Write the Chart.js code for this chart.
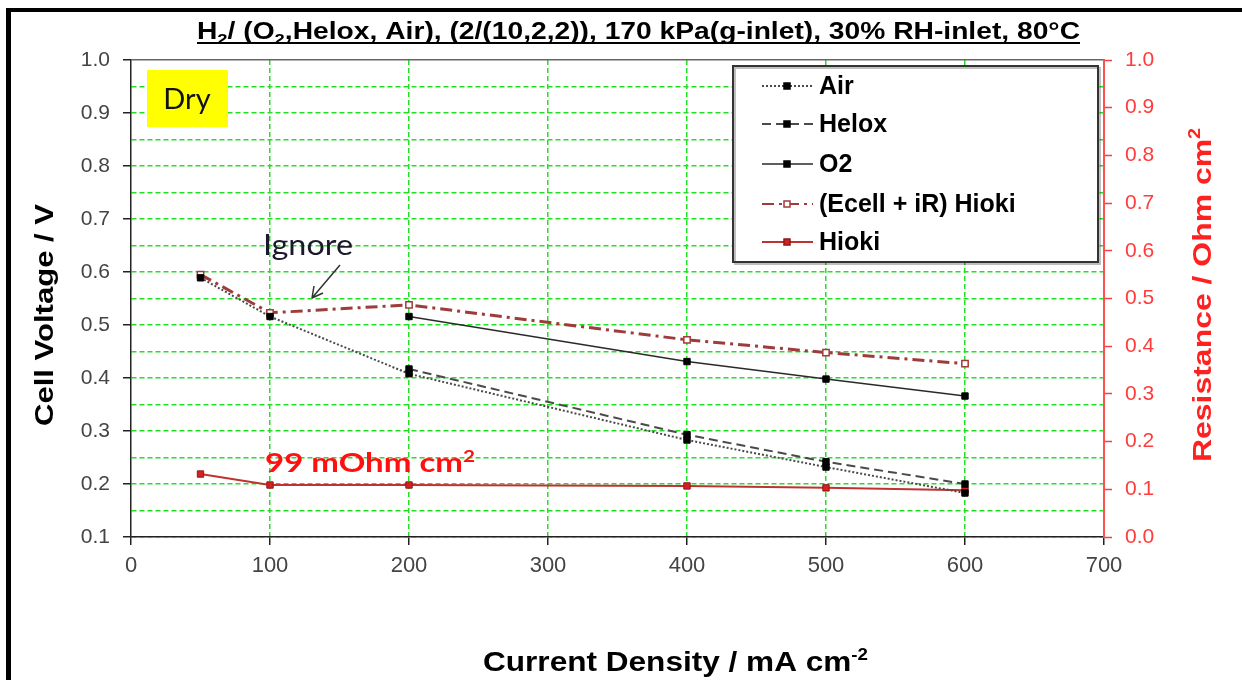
<!DOCTYPE html>
<html>
<head>
<meta charset="utf-8">
<script src="https://cdn.jsdelivr.net/npm/chart.js@4.4.1/dist/chart.umd.min.js"></script>
<style>
  html, body { margin: 0; padding: 0; background: #fff; }
  canvas { display: block; }
</style>
</head>
<body>
<canvas id="polCurve" width="1242" height="680"></canvas>
<script>
// data
const current = [50, 100, 200, 400, 500, 600];          // mA cm-2
const currentO2 = [200, 400, 500, 600];
const airVoltage = [0.589, 0.516, 0.408, 0.283, 0.232, 0.183];
const heloxVoltage = [0.417, 0.293, 0.242, 0.200];
const o2Voltage = [0.516, 0.431, 0.398, 0.366];
const irFreeVoltage = [0.595, 0.523, 0.538, 0.472, 0.448, 0.427];
const hiokiResistance = [0.132, 0.109, 0.109, 0.107, 0.103, 0.098];
const seriesLabels = ['Air', 'Helox', 'O2', '(Ecell + iR) Hioki', 'Hioki'];

const GREEN = '#22e022';
const ARIAL = "'Liberation Sans', Arial, sans-serif";
const NARROW = "'Liberation Sans Narrow', 'Liberation Sans', Arial, sans-serif";
const CALIBRI = "Lato, 'Open Sans', sans-serif";

function pts(xs, ys) {
    return xs.map((x, i) => ({x: x, y: ys[i]}));
}
function isMajor(v) {
    return Math.abs(v * 10 - Math.round(v * 10)) < 1e-6;
}

// draws a row of text pieces (sub/superscripts) squeezed to a given width
function drawPieces(ctx, pieces, x, y, width) {
    let total = 0;
    pieces.forEach(p => { ctx.font = p.font; total += ctx.measureText(p.t).width; });
    const sx = width / total;
    ctx.save();
    ctx.translate(x, y);
    ctx.scale(sx, 1);
    ctx.textBaseline = 'alphabetic';
    ctx.textAlign = 'left';
    let cx = 0;
    pieces.forEach(p => {
        ctx.font = p.font;
        ctx.fillText(p.t, cx, p.dy || 0);
        cx += ctx.measureText(p.t).width;
    });
    ctx.restore();
}

const decorations = {
    id: 'decorations',
    beforeDraw(chart) {
        const ctx = chart.ctx;
        ctx.save();
        ctx.fillStyle = '#fff';
        ctx.fillRect(0, 0, chart.width, chart.height);
        ctx.fillStyle = '#000';
        ctx.fillRect(6, 8, 5, chart.height - 8);
        ctx.fillRect(6, 8, chart.width - 6, 4);
        ctx.restore();
    },
    afterDraw(chart) {
        const ctx = chart.ctx;
        ctx.save();

        // title
        ctx.fillStyle = '#000';
        const tf = 'bold 23px ' + NARROW, sf = 'bold 15px ' + NARROW;
        drawPieces(ctx, [
            {t: 'H', font: tf}, {t: '2', font: sf, dy: 5},
            {t: '/ (O', font: tf}, {t: '2', font: sf, dy: 5},
            {t: ',Helox, Air), (2/(10,2,2)), 170 kPa(g-inlet), 30% RH-inlet, 80°C', font: tf}
        ], 197, 39, 883);
        ctx.fillRect(197, 42, 883, 2);

        // axis titles
        drawPieces(ctx, [
            {t: 'Current Density / mA cm', font: 'bold 27px ' + NARROW},
            {t: '-2', font: 'bold 16px ' + NARROW, dy: -11}
        ], 483, 671, 385);

        ctx.save();
        ctx.translate(53, 426);
        ctx.rotate(-Math.PI / 2);
        drawPieces(ctx, [{t: 'Cell Voltage / V', font: 'bold 26px ' + ARIAL}], 0, 0, 222);
        ctx.restore();

        ctx.save();
        ctx.fillStyle = '#ff2020';
        ctx.translate(1211, 462);
        ctx.rotate(-Math.PI / 2);
        drawPieces(ctx, [
            {t: 'Resistance / Ohm cm', font: 'bold 26px ' + ARIAL},
            {t: '2', font: 'bold 16px ' + ARIAL, dy: -11}
        ], 0, 0, 334);
        ctx.restore();

        // Dry label
        ctx.fillStyle = '#ffff00';
        ctx.fillRect(147, 70, 81, 57);
        ctx.fillStyle = '#111';
        ctx.font = '29px ' + CALIBRI;
        ctx.textAlign = 'center';
        ctx.textBaseline = 'alphabetic';
        ctx.fillText('Dry', 187, 109);

        // Ignore note with arrow
        ctx.fillStyle = '#1a1a2a';
        drawPieces(ctx, [{t: 'Ignore', font: '29px ' + CALIBRI}], 263, 255, 90);
        ctx.strokeStyle = '#333';
        ctx.lineWidth = 1.5;
        ctx.beginPath();
        ctx.moveTo(340, 265);
        ctx.lineTo(312, 298);
        ctx.moveTo(312, 298);
        ctx.lineTo(314, 286);
        ctx.moveTo(312, 298);
        ctx.lineTo(323, 293);
        ctx.stroke();

        // resistance note
        ctx.fillStyle = '#ff1010';
        drawPieces(ctx, [
            {t: '99 mOhm cm', font: 'bold 27px ' + CALIBRI},
            {t: '2', font: 'bold 17px ' + CALIBRI, dy: -10}
        ], 265, 472, 210);

        // legend box
        ctx.fillStyle = '#fff';
        ctx.fillRect(733, 66, 365, 196);
        ctx.strokeStyle = 'rgba(0,0,0,0.25)';
        ctx.lineWidth = 2;
        ctx.strokeRect(735, 68, 365, 196);
        ctx.strokeStyle = '#333';
        ctx.strokeRect(733, 66, 365, 196);
        const rows = [86, 124, 164, 204, 242];
        chart.data.datasets.forEach((ds, i) => {
            const y = rows[i];
            ctx.save();
            ctx.strokeStyle = ds.borderColor;
            ctx.lineWidth = Math.min(ds.borderWidth, 2);
            ctx.setLineDash(ds.borderDash || []);
            ctx.beginPath();
            ctx.moveTo(762, y);
            ctx.lineTo(813, y);
            ctx.stroke();
            ctx.setLineDash([]);
            ctx.fillStyle = ds.pointBackgroundColor;
            ctx.strokeStyle = ds.pointBorderColor;
            ctx.lineWidth = 1.5;
            ctx.fillRect(784, y - 3, 6, 6);
            ctx.strokeRect(784, y - 3, 6, 6);
            ctx.restore();
            ctx.fillStyle = '#000';
            ctx.font = 'bold 25px ' + ARIAL;
            ctx.textAlign = 'left';
            ctx.textBaseline = 'middle';
            ctx.fillText(ds.label, 819, y + 1);
        });

        ctx.restore();
    }
};

const ctx1 = document.getElementById('polCurve').getContext('2d');
const polChart = new Chart(ctx1, {
    type: 'line',
    data: {
        datasets: [{
            label: seriesLabels[0],
            data: pts(current, airVoltage),
            yAxisID: 'y',
            borderColor: '#4a4a4a',
            borderWidth: 2,
            borderDash: [2, 2],
            pointStyle: 'rect',
            pointRadius: 4.5,
            pointBackgroundColor: '#000',
            pointBorderColor: '#000',
            pointBorderWidth: 1
        }, {
            label: seriesLabels[1],
            data: pts(currentO2, heloxVoltage),
            yAxisID: 'y',
            borderColor: '#4a4a4a',
            borderWidth: 2,
            borderDash: [9, 5],
            pointStyle: 'rect',
            pointRadius: 4.5,
            pointBackgroundColor: '#000',
            pointBorderColor: '#000',
            pointBorderWidth: 1
        }, {
            label: seriesLabels[2],
            data: pts(currentO2, o2Voltage),
            yAxisID: 'y',
            borderColor: '#2a2a2a',
            borderWidth: 1.5,
            pointStyle: 'rect',
            pointRadius: 4.5,
            pointBackgroundColor: '#000',
            pointBorderColor: '#000',
            pointBorderWidth: 1
        }, {
            label: seriesLabels[3],
            data: pts(current, irFreeVoltage),
            yAxisID: 'y',
            borderColor: '#9e3b3b',
            borderWidth: 3,
            borderDash: [12, 5, 3, 5],
            pointStyle: 'rect',
            pointRadius: 4.5,
            pointBackgroundColor: '#fff',
            pointBorderColor: '#a33a3a',
            pointBorderWidth: 1.5
        }, {
            label: seriesLabels[4],
            data: pts(current, hiokiResistance),
            yAxisID: 'y1',
            borderColor: '#c03232',
            borderWidth: 2,
            pointStyle: 'rect',
            pointRadius: 4.5,
            pointBackgroundColor: '#d42020',
            pointBorderColor: '#8b1a1a',
            pointBorderWidth: 1
        }]
    },
    options: {
        responsive: false,
        animation: false,
        events: [],
        layout: {
            padding: {top: 60, left: 0, right: 0, bottom: 0}
        },
        plugins: {
            legend: {display: false},
            title: {display: false},
            tooltip: {enabled: false}
        },
        scales: {
            x: {
                type: 'linear',
                min: 0,
                max: 700,
                ticks: {
                    stepSize: 100,
                    maxRotation: 0,
                    padding: 8,
                    color: '#444',
                    font: {family: NARROW, size: 22}
                },
                grid: {
                    color: c => (c.tick && (c.tick.value === 0 || c.tick.value === 700)) ? 'rgba(0,0,0,0)' : GREEN,
                    lineWidth: 1.5,
                    tickColor: '#222',
                    tickLength: 8,
                    tickWidth: 1.5
                },
                border: {
                    color: '#222',
                    width: 1.5,
                    dash: c => c.tick ? [5, 3] : []
                },
                afterFit: s => { s.height = 143; }
            },
            y: {
                position: 'left',
                min: 0.1,
                max: 1.0,
                ticks: {
                    stepSize: 0.05,
                    autoSkip: false,
                    padding: 13,
                    color: '#444',
                    font: {family: ARIAL, size: 21},
                    callback: v => isMajor(v) ? v.toFixed(1) : ''
                },
                grid: {
                    color: c => (c.tick && Math.abs(c.tick.value - 1) < 1e-6) ? '#666' : GREEN,
                    lineWidth: 1.5,
                    tickColor: c => (c.tick && isMajor(c.tick.value)) ? '#222' : 'rgba(0,0,0,0)',
                    tickLength: 8,
                    tickWidth: 1.5
                },
                border: {
                    color: '#222',
                    width: 1.5,
                    dash: c => (c.tick && Math.abs(c.tick.value - 1) > 1e-6) ? [5, 3] : []
                },
                afterFit: s => { s.width = 131; }
            },
            y1: {
                position: 'right',
                min: 0,
                max: 1,
                ticks: {
                    stepSize: 0.1,
                    padding: 13,
                    color: '#ff3b3b',
                    font: {family: ARIAL, size: 21},
                    callback: v => v.toFixed(1)
                },
                grid: {
                    drawOnChartArea: false,
                    tickColor: '#ff3b3b',
                    tickLength: 8,
                    tickWidth: 1.5
                },
                border: {
                    color: '#ff5050',
                    width: 2
                },
                afterFit: s => { s.width = 138; }
            }
        }
    },
    plugins: [decorations]
});
</script>
</body>
</html>
